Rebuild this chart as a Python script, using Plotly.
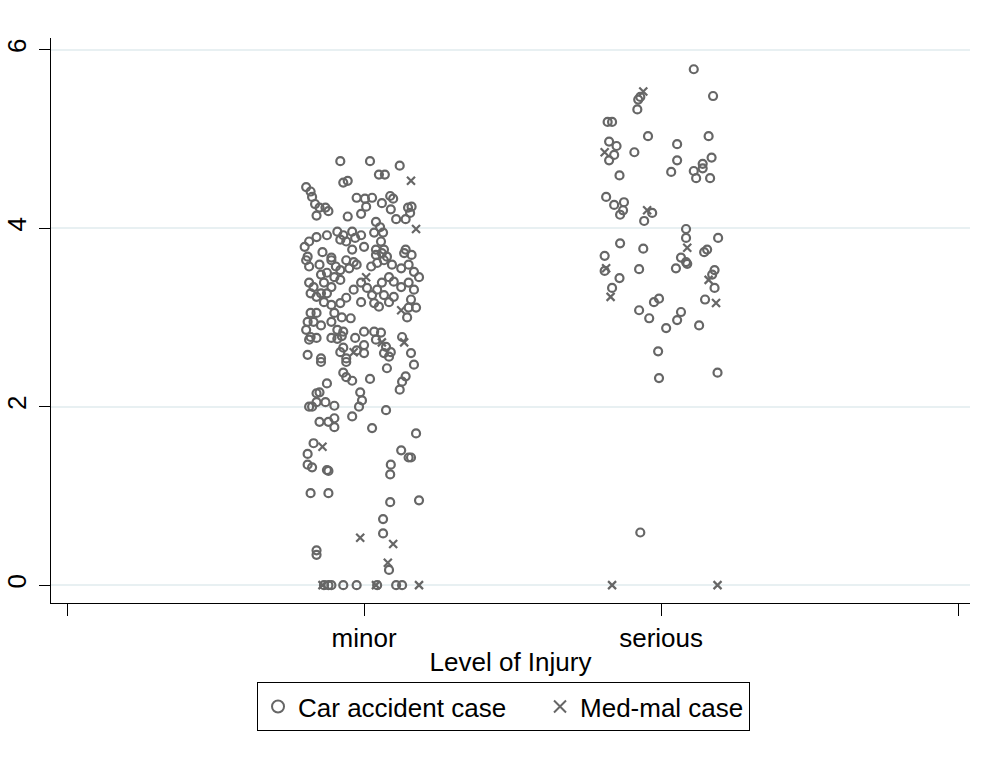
import plotly.graph_objects as go

# ---------------- data ----------------
categories = ["minor", "serious"]
cat_pos = {"minor": 1, "serious": 2}
x_tick_vals = [0, 1, 2, 3]
x_tick_text = ["", "minor", "serious", ""]
y_tick_vals = [0, 2, 4, 6]
series_names = ["Car accident case", "Med-mal case"]

# Car accident cases, level = minor  (jitter offset, value)
minor_car_jitter = [
    -0.08, 0.02, 0.12, 0.05, 0.07, -0.07, -0.055, -0.195, -0.18, -0.175, -0.165, -0.15, -0.13, -0.12, -0.16,
    -0.025, 0.003, 0.027, 0.06, 0.088, 0.098, 0.007, 0.09, 0.108, -0.055, -0.01, 0.148, 0.16, 0.155, 0.14,
    0.04, 0.054, 0.034, 0.064, 0.057,
    -0.20, -0.185, -0.16, -0.125, -0.09, -0.07, -0.04, -0.01, -0.08, -0.06, -0.03, 0.0, -0.04, -0.14, -0.19,
    -0.11, 0.04, 0.067, 0.14, 0.16,
    0.04, 0.06, 0.077, 0.135, -0.195, -0.185, -0.15, -0.11, -0.095, -0.06, -0.035, -0.025, -0.05, -0.08,
    0.024, 0.044, 0.067, 0.094, 0.125, 0.15, 0.168, 0.185, -0.145, -0.125, -0.10, -0.08, -0.11, -0.135,
    -0.125, -0.145, -0.17, -0.185, -0.18, -0.16, -0.135, -0.11, -0.08, -0.06, -0.035, -0.01, 0.01, 0.027,
    0.044, 0.06, 0.084, 0.10, 0.125, 0.15, 0.168, 0.034, 0.05, 0.067, 0.084, 0.10, 0.158, 0.15, 0.175,
    0.145, -0.01, -0.18, -0.16, -0.19, -0.17, -0.145, -0.195, -0.18, -0.16, -0.185, -0.10, -0.075, -0.045,
    -0.11, -0.09, -0.07, -0.11, -0.09, -0.075, -0.03, 0.0, 0.034, 0.057, 0.04, 0.074, 0.128, 0.09, 0.158,
    0.0, -0.07, -0.025, 0.0, -0.19, -0.145, -0.06, 0.067, 0.084,
    -0.145, -0.08, -0.06, 0.168, 0.077, -0.07, -0.06, -0.04, 0.02, -0.125, -0.15, -0.16, 0.14, 0.128,
    0.12, -0.013, -0.007, -0.017, -0.13, -0.16, -0.185, -0.175, -0.10, 0.074, -0.04, -0.10, -0.12, -0.10,
    -0.15, 0.027, 0.175, -0.17, -0.19, 0.125, 0.15, 0.158,
    -0.19, -0.175, -0.125, -0.12, 0.09, 0.088, -0.18, -0.12, 0.088, 0.185, 0.064, 0.064, -0.16, -0.16,
    0.084,
    -0.135, -0.12, -0.11, -0.07, -0.025, 0.044, 0.108, 0.128,
]
minor_car_value = [
    4.75, 4.75, 4.70, 4.60, 4.60, 4.51, 4.53, 4.46, 4.41, 4.35, 4.27, 4.23, 4.23, 4.19, 4.14,
    4.34, 4.33, 4.34, 4.28, 4.36, 4.33, 4.24, 4.21, 4.10, 4.13, 4.16, 4.23, 4.24, 4.17, 4.10,
    4.07, 4.01, 3.95, 3.95, 3.85,
    3.79, 3.85, 3.90, 3.92, 3.96, 3.92, 3.96, 3.92, 3.87, 3.85, 3.89, 3.79, 3.76, 3.73, 3.68,
    3.67, 3.76, 3.76, 3.76, 3.70,
    3.70, 3.72, 3.68, 3.72, 3.64, 3.57, 3.59, 3.64, 3.57, 3.64, 3.62, 3.59, 3.55, 3.53,
    3.57, 3.61, 3.64, 3.59, 3.55, 3.59, 3.51, 3.45, 3.48, 3.50, 3.45, 3.42, 3.34, 3.39,
    3.27, 3.27, 3.34, 3.39, 3.27, 3.23, 3.17, 3.14, 3.16, 3.22, 3.31, 3.39, 3.33, 3.25,
    3.31, 3.39, 3.45, 3.40, 3.34, 3.39, 3.31, 3.16, 3.12, 3.25, 3.17, 3.23, 3.20, 3.11, 3.11,
    3.00, 3.17, 3.05, 3.05, 2.95, 2.95, 2.91, 2.86, 2.78, 2.77, 2.75, 3.05, 3.00, 2.99,
    2.95, 2.86, 2.84, 2.77, 2.76, 2.79, 2.77, 2.84, 2.84, 2.83, 2.75, 2.67, 2.78, 2.61, 2.60,
    2.69, 2.66, 2.63, 2.60, 2.58, 2.54, 2.54, 2.60, 2.56,
    2.50, 2.61, 2.50, 2.47, 2.43, 2.38, 2.33, 2.29, 2.31, 2.26, 2.16, 2.15, 2.34, 2.28,
    2.19, 2.16, 2.07, 2.00, 2.05, 2.05, 2.00, 2.00, 2.01, 1.96, 1.89, 1.87, 1.83, 1.77,
    1.83, 1.76, 1.70, 1.59, 1.47, 1.51, 1.43, 1.43,
    1.35, 1.32, 1.29, 1.28, 1.35, 1.24, 1.03, 1.03, 0.93, 0.95, 0.74, 0.58, 0.39, 0.34,
    0.17,
    0.0, 0.0, 0.0, 0.0, 0.0, 0.0, 0.0, 0.0,
]

# Med-mal cases, level = minor
minor_med_jitter = [0.158, 0.175, 0.007, 0.125, 0.06, 0.135, -0.035, -0.14, -0.013, 0.098, 0.08,
                    -0.14, 0.04, 0.185]
minor_med_value = [4.53, 3.99, 3.45, 3.08, 2.72, 2.72, 2.61, 1.55, 0.53, 0.46, 0.25,
                   0.0, 0.0, 0.0]

# Car accident cases, level = serious
serious_car_jitter = [
    0.11, 0.175, -0.07, -0.077, -0.08, -0.18, -0.165, -0.044, 0.16, 0.054, -0.175, -0.15, -0.158, -0.175,
    -0.09, 0.054, 0.17, 0.14, 0.034, 0.11, 0.118, 0.14, 0.165, -0.14, -0.185, -0.158, -0.125, -0.128,
    -0.138, -0.03, -0.057, 0.084, 0.084, 0.192, -0.138, -0.06, -0.19, 0.145, 0.155, 0.067, 0.084,
    -0.19, -0.14, -0.074, 0.05, 0.088, 0.18, 0.172, 0.18, -0.165, -0.024, -0.007, 0.148, -0.074, -0.04,
    0.067, 0.054, 0.017, 0.128, -0.01, -0.007, 0.19, -0.07,
]
serious_car_value = [
    5.78, 5.48, 5.47, 5.44, 5.33, 5.19, 5.19, 5.03, 5.03, 4.94, 4.97, 4.92, 4.82, 4.76,
    4.85, 4.76, 4.79, 4.72, 4.63, 4.64, 4.56, 4.67, 4.56, 4.59, 4.35, 4.26, 4.29, 4.20,
    4.15, 4.17, 4.08, 3.99, 3.89, 3.89, 3.83, 3.77, 3.69, 3.73, 3.76, 3.67, 3.62,
    3.52, 3.44, 3.54, 3.55, 3.60, 3.53, 3.48, 3.33, 3.33, 3.17, 3.21, 3.20, 3.08, 2.99,
    3.06, 2.97, 2.88, 2.91, 2.62, 2.32, 2.38, 0.59,
]

# Med-mal cases, level = serious
serious_med_jitter = [-0.06, -0.19, -0.047, 0.088, -0.185, 0.16, -0.17, 0.185, -0.165, 0.19]
serious_med_value = [5.53, 4.85, 4.20, 3.78, 3.55, 3.42, 3.23, 3.16, 0.0, 0.0]

# ---------------- figure ----------------
marker_color = "#666666"
font_family = "Liberation Sans, Arial, sans-serif"
fs = 26
nbsp_pad = "\u00a0" * 4  # extra spacing between legend entries

car_x = [cat_pos["minor"] + j for j in minor_car_jitter] + [cat_pos["serious"] + j for j in serious_car_jitter]
car_y = minor_car_value + serious_car_value
med_x = [cat_pos["minor"] + j for j in minor_med_jitter] + [cat_pos["serious"] + j for j in serious_med_jitter]
med_y = minor_med_value + serious_med_value

fig = go.Figure()
fig.add_trace(go.Scatter(
    x=car_x, y=car_y, mode="markers", name=series_names[0] + nbsp_pad,
    marker=dict(symbol="circle-open", size=8, color=marker_color, line=dict(width=2.2, color=marker_color)),
))
fig.add_trace(go.Scatter(
    x=med_x, y=med_y, mode="markers", name=series_names[1],
    marker=dict(symbol="x-thin-open", size=8, color=marker_color, line=dict(width=2.2, color=marker_color)),
))

fig.update_layout(
    width=990, height=768,
    margin=dict(l=51, r=20, t=38, b=165),
    paper_bgcolor="white", plot_bgcolor="white",
    font=dict(family=font_family, size=fs, color="black"),
    showlegend=True,
    legend=dict(
        orientation="h", x=0.4924, xanchor="center", y=-0.14, yanchor="top",
        bordercolor="black", borderwidth=1, bgcolor="white",
        font=dict(size=fs), itemsizing="constant",
    ),
)
fig.update_xaxes(
    range=[-0.054, 3.04], tickmode="array", tickvals=x_tick_vals, ticktext=x_tick_text,
    showgrid=False, zeroline=False, showline=True, linecolor="black", linewidth=1,
    ticks="outside", ticklen=12, tickcolor="black", tickfont=dict(size=fs),
    title=dict(text="Level of Injury", font=dict(size=fs), standoff=0),
    automargin=False,
)
fig.update_yaxes(
    range=[-0.2, 6.13], tickmode="array", tickvals=y_tick_vals,
    showgrid=True, gridcolor="#E8F0F2", gridwidth=1.5, zeroline=False,
    showline=True, linecolor="black", linewidth=1,
    ticks="outside", ticklen=11, tickcolor="black", tickangle=-90, tickfont=dict(size=fs),
    ticklabelstandoff=3, automargin=False,
)

fig.write_html("out.html")
